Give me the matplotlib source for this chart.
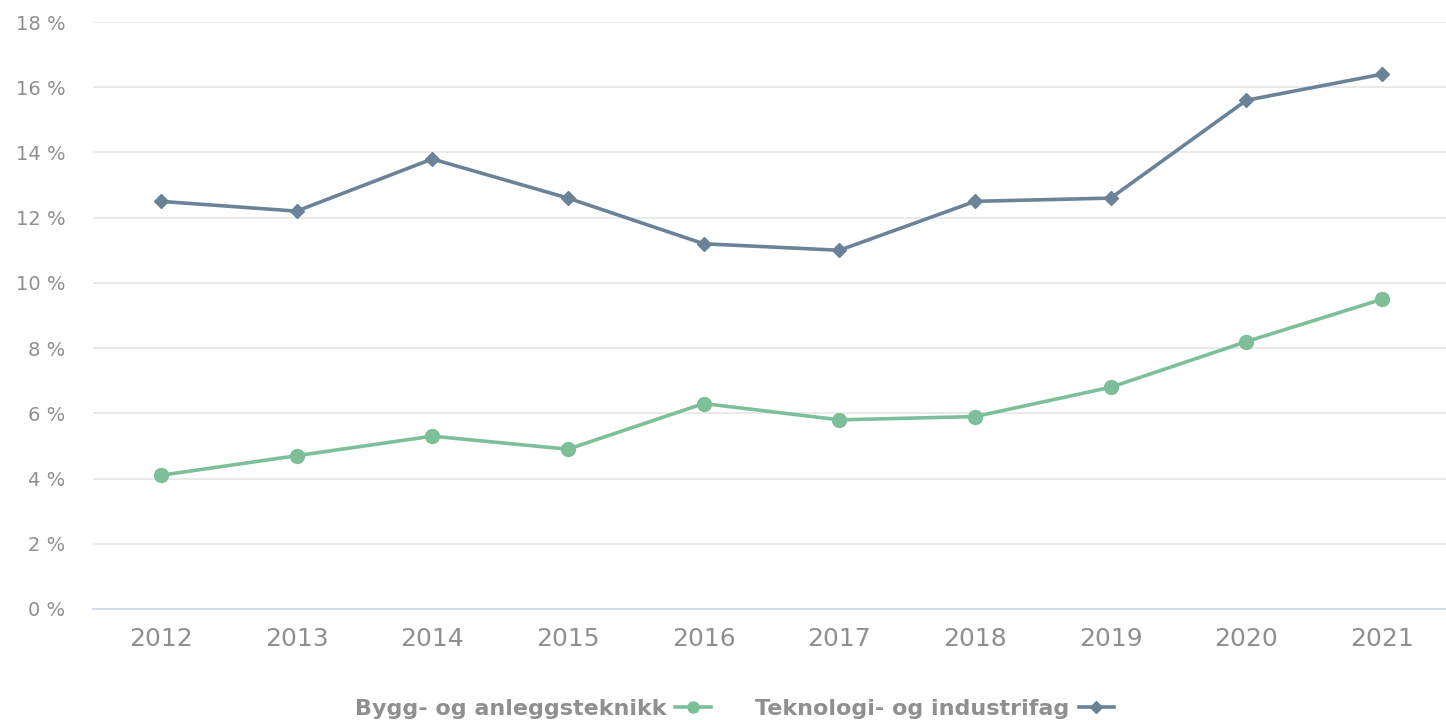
import matplotlib.pyplot as plt

years = ['2012', '2013', '2014', '2015', '2016', '2017', '2018', '2019', '2020', '2021']
bygg = [4.1, 4.7, 5.3, 4.9, 6.3, 5.8, 5.9, 6.8, 8.2, 9.5]
teknologi = [12.5, 12.2, 13.8, 12.6, 11.2, 11.0, 12.5, 12.6, 15.6, 16.4]
y_ticks = [0, 2, 4, 6, 8, 10, 12, 14, 16, 18]

text_col = '#8f8f8f'
bygg_col = '#7dbf98'
tek_col = '#6a8398'

fig = plt.figure(figsize=(14.46, 7.2), dpi=100)
W, H = 1446, 720
ax = fig.add_axes([93 / W, (H - 609) / H, (1450 - 93) / W, (609 - 22) / H])

x = list(range(len(years)))
ax.plot(x, bygg, color=bygg_col, lw=2.6, marker='o', ms=10, label='Bygg- og anleggsteknikk', zorder=3)
ax.plot(x, teknologi, color=tek_col, lw=2.6, marker='D', ms=7.5, label='Teknologi- og industrifag', zorder=3)

ax.set_xlim(-0.5, len(years) - 0.5)
ax.set_ylim(0, 18)
ax.set_yticks(y_ticks)
ax.set_yticklabels([f'{v} %' for v in y_ticks])
ax.set_xticks(x)
ax.set_xticklabels(years)
ax.grid(axis='y', color='#e6e6e6', lw=1.2)
ax.set_axisbelow(True)
for s in ['top', 'right', 'left']:
    ax.spines[s].set_visible(False)
ax.spines['bottom'].set_color('#ccd6eb')
ax.spines['bottom'].set_linewidth(1.2)
ax.tick_params(axis='y', length=0, labelsize=14, labelcolor=text_col, pad=20)
ax.tick_params(axis='x', length=0, labelsize=18, labelcolor=text_col, pad=13)

leg = fig.legend(loc='lower center', bbox_to_anchor=(0.508, -0.026), ncol=2, frameon=False,
                 markerfirst=False, fontsize=16, handlelength=1.6, columnspacing=2.0,
                 handletextpad=0.4, markerscale=0.8)
for t in leg.get_texts():
    t.set_color(text_col)
    t.set_fontweight('semibold')

fig.savefig('out.png', dpi=100)
